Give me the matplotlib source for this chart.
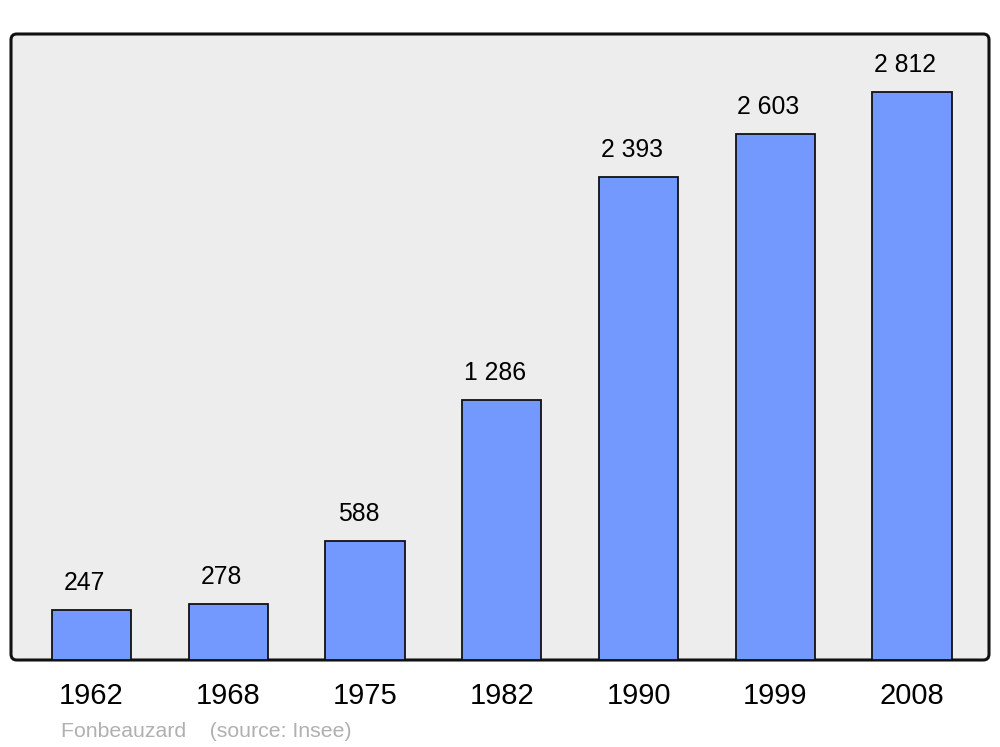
import matplotlib
matplotlib.use("Agg")
import matplotlib.pyplot as plt
from matplotlib.patches import FancyBboxPatch

plt.rcParams['font.family'] = ['Liberation Sans', 'DejaVu Sans']

years = ['1962', '1968', '1975', '1982', '1990', '1999', '2008']
population = [247, 278, 588, 1286, 2393, 2603, 2812]
labels = ['247', '278', '588', '1 286', '2 393', '2 603', '2 812']

fig = plt.figure(figsize=(10, 7.47), dpi=100)
ax = fig.add_axes([11/1000, 87/747, 978/1000, 626/747])
ax.set_facecolor('none')

# fond gris avec coins arrondis
cadre = FancyBboxPatch((0, 0), 1, 1, boxstyle="round,pad=0,rounding_size=0.006",
                       mutation_aspect=978/626, transform=ax.transAxes,
                       facecolor='#ededed', edgecolor='#111111', linewidth=2.2,
                       zorder=0, clip_on=False)
ax.add_patch(cadre)

x = list(range(len(years)))
ax.bar(x, population, width=0.58, color='#7399ff', edgecolor='#111111',
       linewidth=1.3, zorder=2)

for xi, v, lab in zip(x, population, labels):
    ax.annotate(lab, (xi, v), xytext=(-4.8, 14.3), textcoords='offset points',
                ha='center', va='baseline', fontsize=17.8, color='black')

ax.set_xlim(-0.589, 6.563)
ax.set_ylim(0, 3099)
ax.set_xticks(x)
ax.set_xticklabels(years, fontsize=21)
ax.set_yticks([])
ax.tick_params(axis='x', length=0, pad=16)
for s in ax.spines.values():
    s.set_visible(False)

fig.text(61/1000, 1 - 737/747, 'Fonbeauzard    (source: Insee)', fontsize=15.3,
         color='#b0b0b0', ha='left', va='baseline')

fig.savefig('out.png', dpi=100)
